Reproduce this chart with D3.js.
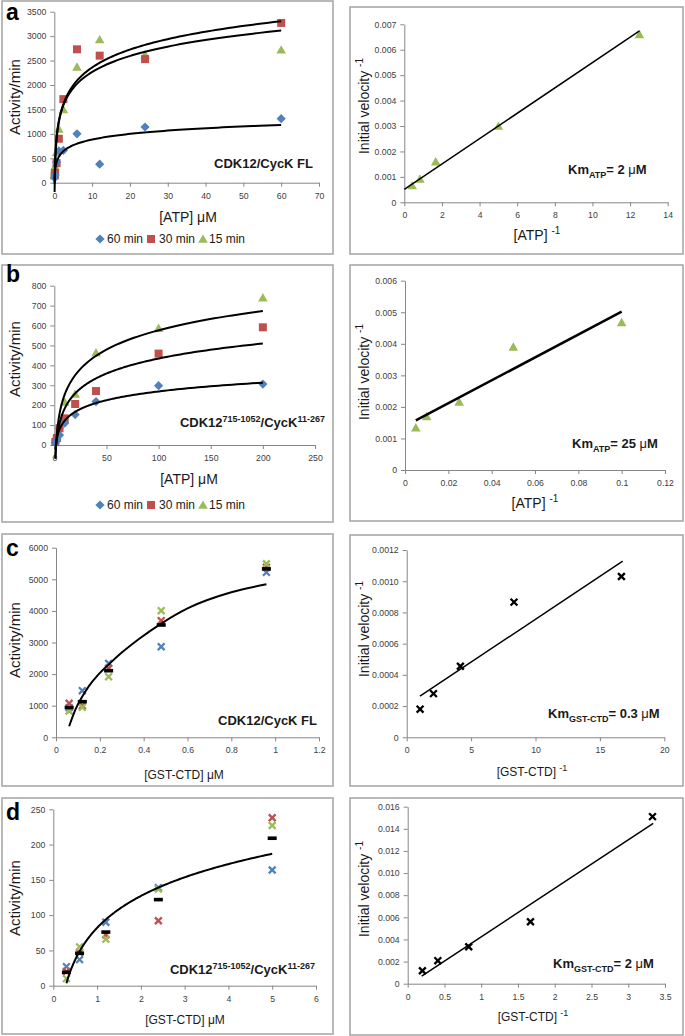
<!DOCTYPE html>
<html><head><meta charset="utf-8">
<script src="https://cdn.jsdelivr.net/npm/d3@7"></script>
<style>body{margin:0;background:#fff}svg{display:block}</style>
</head><body>
<svg id="chart" width="685" height="1036"></svg>
<script>
// ================= DATA =================
const seriesNames = ["60 min", "30 min", "15 min"];

// Panel a (CDK12/CycK FL, ATP titration)
const atpA   = [0.08, 0.2, 0.6, 1.2, 2.4, 6, 12, 24, 60];
const actA60 = [100, 160, 420, 650, 660, 1000, 380, 1140, 1310];
const actA30 = [150, 200, 400, 900, 1710, 2730, 2600, 2530, 3270];
const actA15 = [152, 333, 620, 1100, 1500, 2370, 2930, 2620, 2720];
const invAtpA = [0.42, 0.83, 1.67, 5, 12.5];
const invVelA = [0.00066, 0.00092, 0.0016, 0.0030, 0.0066];
const fitLineAx = [0, 12.5];
const fitLineAy = [0.00051, 0.00674];

// Panel b (CDK12 715-1052 / CycK 11-267, ATP titration)
const atpB   = [1, 2.5, 5, 10, 20, 40, 100, 200];
const actB60 = [10, 25, 50, 110, 153, 218, 298, 306];
const actB30 = [15, 35, 84, 134, 206, 271, 459, 591];
const actB15 = [30, 55, 100, 216, 256, 464, 587, 740];
const invAtpB = [0.005, 0.01, 0.025, 0.05, 0.1];
const invVelB = [0.00134, 0.0017, 0.00216, 0.0039, 0.00468];
const fitLineBx = [0.005, 0.1];
const fitLineBy = [0.00157, 0.00502];

// Panel c (CDK12/CycK FL, GST-CTD titration)
const ctdC      = [0.06, 0.12, 0.24, 0.48, 0.96];
const actC_rep1 = [940, 1475, 2340, 2867, 5220];
const actC_rep2 = [1076, 1000, 2184, 3690, 5380];
const actC_rep3 = [832, 949, 1918, 4006, 5490];
const actC_mean = [940, 1127, 2108, 3554, 5330];
const curveCx = [0.06, 0.09, 0.12, 0.15, 0.19, 0.24, 0.30, 0.38, 0.48, 0.60, 0.80, 0.96];
const curveCy = [350, 900, 1290, 1620, 1960, 2300, 2680, 3120, 3600, 4080, 4590, 4840];
const invCtdC = [1.04, 2.08, 4.17, 8.33, 16.67];
const invVelC = [0.00018, 0.00028, 0.000455, 0.000866, 0.00103];
const fitLineCx = [1.03, 16.77];
const fitLineCy = [0.000264, 0.001128];

// Panel d (CDK12 715-1052 / CycK 11-267, GST-CTD titration)
const ctdD      = [0.3, 0.6, 1.2, 2.4, 5];
const actD_rep1 = [27, 37, 90, 139, 164];
const actD_rep2 = [20, 47, 72, 92, 238];
const actD_rep3 = [10, 55, 66, 137, 227];
const actD_mean = [19, 46, 76, 122, 209];
const invCtdD = [0.2, 0.41, 0.83, 1.67, 3.33];
const invVelD = [0.00117, 0.00208, 0.00334, 0.0056, 0.0151];
const fitLineDx = [0.19, 3.34];
const fitLineDy = [0.00069, 0.01449];

// Tick values and labels
const tickAxL = [0, 10, 20, 30, 40, 50, 60, 70];
const labAxL  = ["0", "10", "20", "30", "40", "50", "60", "70"];
const tickAyL = [0, 500, 1000, 1500, 2000, 2500, 3000, 3500];
const labAyL  = ["0", "500", "1000", "1500", "2000", "2500", "3000", "3500"];
const tickAxR = [0, 2, 4, 6, 8, 10, 12, 14];
const labAxR  = ["0", "2", "4", "6", "8", "10", "12", "14"];
const tickAyR = [0, 0.001, 0.002, 0.003, 0.004, 0.005, 0.006, 0.007];
const labAyR  = ["0", "0.001", "0.002", "0.003", "0.004", "0.005", "0.006", "0.007"];

const tickBxL = [0, 50, 100, 150, 200, 250];
const labBxL  = ["0", "50", "100", "150", "200", "250"];
const tickByL = [0, 100, 200, 300, 400, 500, 600, 700, 800];
const labByL  = ["0", "100", "200", "300", "400", "500", "600", "700", "800"];
const tickBxR = [0, 0.02, 0.04, 0.06, 0.08, 0.1, 0.12];
const labBxR  = ["0", "0.02", "0.04", "0.06", "0.08", "0.1", "0.12"];
const tickByR = [0, 0.001, 0.002, 0.003, 0.004, 0.005, 0.006];
const labByR  = ["0", "0.001", "0.002", "0.003", "0.004", "0.005", "0.006"];

const tickCxL = [0, 0.2, 0.4, 0.6, 0.8, 1, 1.2];
const labCxL  = ["0", "0.2", "0.4", "0.6", "0.8", "1", "1.2"];
const tickCyL = [0, 1000, 2000, 3000, 4000, 5000, 6000];
const labCyL  = ["0", "1000", "2000", "3000", "4000", "5000", "6000"];
const tickCxR = [0, 5, 10, 15, 20];
const labCxR  = ["0", "5", "10", "15", "20"];
const tickCyR = [0, 0.0002, 0.0004, 0.0006, 0.0008, 0.0010, 0.0012];
const labCyR  = ["0", "0.0002", "0.0004", "0.0006", "0.0008", "0.0010", "0.0012"];

const tickDxL = [0, 1, 2, 3, 4, 5, 6];
const labDxL  = ["0", "1", "2", "3", "4", "5", "6"];
const tickDyL = [0, 50, 100, 150, 200, 250];
const labDyL  = ["0", "50", "100", "150", "200", "250"];
const tickDxR = [0, 0.5, 1, 1.5, 2, 2.5, 3, 3.5];
const labDxR  = ["0", "0.5", "1", "1.5", "2", "2.5", "3", "3.5"];
const tickDyR = [0, 0.002, 0.004, 0.006, 0.008, 0.010, 0.012, 0.014, 0.016];
const labDyR  = ["0", "0.002", "0.004", "0.006", "0.008", "0.010", "0.012", "0.014", "0.016"];

// ================= LAYOUT / STYLE =================
const FONT = "Arial, 'Liberation Sans', Helvetica, sans-serif";
const COL = {blue: "#4F81BD", red: "#C0504D", green: "#9BBB59"};
const LAYOUT = {
  aL: {box: [2, 1, 333, 254],    plot: {l: 54.3, r: 319,   t: 11.7,  b: 182.7}},
  aR: {box: [350, 7, 683, 254],  plot: {l: 404.3, r: 667.7, t: 24.3, b: 202.3}},
  bL: {box: [2, 265, 333, 522],  plot: {l: 54.3, r: 315,   t: 285.7, b: 445}},
  bR: {box: [350, 265, 683, 521],plot: {l: 405, r: 665,    t: 280.7, b: 470}},
  cL: {box: [2, 534, 333, 786],  plot: {l: 56, r: 319,     t: 547.7, b: 737.3}},
  cR: {box: [350, 535, 683, 786],plot: {l: 406.7, r: 664.3, t: 550,  b: 737.3}},
  dL: {box: [2, 798, 333, 1034], plot: {l: 53.3, r: 316,   t: 809.3, b: 985.7}},
  dR: {box: [350, 798, 683, 1035],plot:{l: 407.7, r: 665,  t: 806.7, b: 983.7}}
};

const svg = d3.select("#chart");

function frame(key, xTicks, xLabels, yTicks, yLabels) {
  const L = LAYOUT[key];
  const g = svg.append("g");
  g.append("rect").attr("x", L.box[0]).attr("y", L.box[1])
    .attr("width", L.box[2] - L.box[0]).attr("height", L.box[3] - L.box[1])
    .attr("fill", "none").attr("stroke", "#a3a3a3").attr("stroke-width", 1.5);
  const x = d3.scaleLinear().domain([xTicks[0], xTicks[xTicks.length - 1]]).range([L.plot.l, L.plot.r]);
  const y = d3.scaleLinear().domain([yTicks[0], yTicks[yTicks.length - 1]]).range([L.plot.b, L.plot.t]);
  const xa = g.append("g").attr("transform", `translate(0,${L.plot.b})`)
    .call(d3.axisBottom(x).tickValues(xTicks).tickFormat(d => xLabels[xTicks.indexOf(d)])
      .tickSizeInner(4).tickSizeOuter(0).tickPadding(6));
  const ya = g.append("g").attr("transform", `translate(${L.plot.l},0)`)
    .call(d3.axisLeft(y).tickValues(yTicks).tickFormat(d => yLabels[yTicks.indexOf(d)])
      .tickSizeInner(4).tickSizeOuter(0).tickPadding(4));
  [xa, ya].forEach(a => {
    a.select(".domain").attr("stroke", "#868686");
    a.selectAll(".tick line").attr("stroke", "#868686");
    a.selectAll("text").attr("font-size", 8.7).attr("fill", "#404040").attr("font-family", FONT);
  });
  return {g, x, y};
}

function rich(parent, x, y, anchor, parts, rotate) {
  const t = parent.append("text").attr("x", x).attr("y", y).attr("text-anchor", anchor)
    .attr("font-family", FONT).attr("fill", "#1a1a1a");
  if (rotate) t.attr("transform", `rotate(-90 ${x} ${y})`);
  let cur = 0;
  parts.forEach(p => {
    const s = p.shift || 0;
    const ts = t.append("tspan").text(p.t).attr("font-size", p.size)
      .attr("font-weight", p.bold ? "bold" : "normal");
    if (s !== cur) ts.attr("dy", -(s - cur));
    cur = s;
  });
  return t;
}

function marker(g, shape, cx, cy, color) {
  if (shape === "diamond") {
    const r = 4.6;
    g.append("path").attr("d", `M${cx},${cy - r}L${cx + r},${cy}L${cx},${cy + r}L${cx - r},${cy}Z`).attr("fill", color);
  } else if (shape === "square") {
    g.append("rect").attr("x", cx - 4).attr("y", cy - 4).attr("width", 8).attr("height", 8).attr("fill", color);
  } else if (shape === "triangle") {
    g.append("path").attr("d", `M${cx},${cy - 4.6}L${cx + 4.8},${cy + 3.8}L${cx - 4.8},${cy + 3.8}Z`).attr("fill", color);
  } else if (shape === "x") {
    const r = 3.4;
    g.append("path").attr("d", `M${cx - r},${cy - r}L${cx + r},${cy + r}M${cx - r},${cy + r}L${cx + r},${cy - r}`)
      .attr("stroke", color).attr("stroke-width", 2.3).attr("fill", "none");
  } else if (shape === "dash") {
    g.append("rect").attr("x", cx - 4.5).attr("y", cy - 1.8).attr("width", 9).attr("height", 3.6).attr("fill", color);
  }
}

function scatter(p, xs, ys, shape, color) {
  xs.forEach((v, i) => marker(p.g, shape, p.x(v), p.y(ys[i]), color));
}

// least-squares logarithmic trendline (y = a ln x + b), as the spreadsheet does
function logTrend(p, xs, ys, width) {
  const lx = xs.map(Math.log);
  const mx = d3.mean(lx), my = d3.mean(ys);
  const a = d3.sum(lx, (v, i) => (v - mx) * (ys[i] - my)) / d3.sum(lx, v => (v - mx) * (v - mx));
  const b = my - a * mx;
  const lo = d3.min(xs), hi = d3.max(xs);
  const pts = d3.range(0, 201).map(k => {
    const xv = lo * Math.pow(hi / lo, k / 200);
    return [xv, a * Math.log(xv) + b];
  });
  p.g.append("path").attr("d", d3.line().x(d => p.x(d[0])).y(d => p.y(d[1]))(pts))
    .attr("fill", "none").attr("stroke", "#000").attr("stroke-width", width);
}

function straight(p, xs, ys, width) {
  p.g.append("path").attr("d", d3.line().x((d, i) => p.x(xs[i])).y((d, i) => p.y(ys[i]))(xs))
    .attr("fill", "none").attr("stroke", "#000").attr("stroke-width", width);
}

function letter(ch, x, y) {
  svg.append("text").attr("x", x).attr("y", y).attr("font-family", FONT).attr("font-weight", "bold")
    .attr("font-size", 23).attr("fill", "#000").text(ch);
}

function yTitleAct(cy) {
  rich(svg, 20, cy, "middle", [{t: "Activity/min", size: 15}], true);
}
function yTitleInv(cy) {
  rich(svg, 369, cy, "middle", [{t: "Initial velocity\u00A0", size: 14}, {t: "-1", size: 10, shift: 6}], true);
}

function legend(cy) {
  const g = svg.append("g");
  const shapes = ["diamond", "square", "triangle"];
  const cols = [COL.blue, COL.red, COL.green];
  const mx = [100, 151, 203], tx = [107, 159, 209];
  seriesNames.forEach((n, i) => {
    marker(g, shapes[i], mx[i], cy, cols[i]);
    g.append("text").attr("x", tx[i]).attr("y", cy + 4.3).attr("font-family", FONT).attr("font-size", 12)
      .attr("fill", "#1a1a1a").text(n);
  });
}

function kmLabel(x, y, sub, val) {
  rich(svg, x, y, "start", [
    {t: "Km", size: 13, bold: true},
    {t: sub, size: 9, bold: true, shift: -4},
    {t: "= " + val + "\u00A0", size: 13, bold: true, shift: 0},
    {t: "\u03BC", size: 13},
    {t: "M", size: 13, bold: true}
  ]);
}

function truncLabel(x, y) {
  rich(svg, x, y, "end", [
    {t: "CDK12", size: 13, bold: true},
    {t: "715-1052", size: 9, bold: true, shift: 5},
    {t: "/CycK", size: 13, bold: true, shift: 0},
    {t: "11-267", size: 9, bold: true, shift: 5}
  ]);
}

// ================= PANEL a =================
{
  const p = frame("aL", tickAxL, labAxL, tickAyL, labAyL);
  scatter(p, atpA, actA15, "triangle", COL.green);
  scatter(p, atpA, actA30, "square", COL.red);
  scatter(p, atpA, actA60, "diamond", COL.blue);
  logTrend(p, atpA, actA60, 2);
  logTrend(p, atpA, actA30, 2);
  logTrend(p, atpA, actA15, 2);
  rich(svg, 313, 168, "end", [{t: "CDK12/CycK FL", size: 13, bold: true}]);
  rich(svg, 188, 222, "middle", [{t: "[ATP]\u00A0", size: 14}, {t: "\u03BCM", size: 14}]);
  yTitleAct(97);
  legend(239);
  letter("a", 6, 20);

  const q = frame("aR", tickAxR, labAxR, tickAyR, labAyR);
  scatter(q, invAtpA, invVelA, "triangle", COL.green);
  straight(q, fitLineAx, fitLineAy, 1.5);
  kmLabel(568, 174, "ATP", "2");
  rich(svg, 537, 240, "middle", [{t: "[ATP]\u00A0", size: 14}, {t: "-1", size: 10, shift: 6}]);
  yTitleInv(106);
}

// ================= PANEL b =================
{
  const p = frame("bL", tickBxL, labBxL, tickByL, labByL);
  scatter(p, atpB, actB15, "triangle", COL.green);
  scatter(p, atpB, actB30, "square", COL.red);
  scatter(p, atpB, actB60, "diamond", COL.blue);
  logTrend(p, atpB, actB60, 2);
  logTrend(p, atpB, actB30, 2);
  logTrend(p, atpB, actB15, 2);
  truncLabel(325, 427);
  rich(svg, 189, 484, "middle", [{t: "[ATP]\u00A0", size: 14}, {t: "\u03BCM", size: 14}]);
  yTitleAct(359);
  legend(505);
  letter("b", 6, 282);

  const q = frame("bR", tickBxR, labBxR, tickByR, labByR);
  scatter(q, invAtpB, invVelB, "triangle", COL.green);
  straight(q, fitLineBx, fitLineBy, 2.5);
  kmLabel(572, 448, "ATP", "25");
  rich(svg, 535, 508, "middle", [{t: "[ATP]\u00A0", size: 14}, {t: "-1", size: 10, shift: 6}]);
  yTitleInv(372);
}

// ================= PANEL c =================
{
  const p = frame("cL", tickCxL, labCxL, tickCyL, labCyL);
  scatter(p, ctdC, actC_rep1, "x", COL.blue);
  scatter(p, ctdC, actC_rep2, "x", COL.red);
  scatter(p, ctdC, actC_rep3, "x", COL.green);
  scatter(p, ctdC, actC_mean, "dash", "#000");
  p.g.append("path").attr("d", d3.line().curve(d3.curveMonotoneX)
      .x((d, i) => p.x(curveCx[i])).y((d, i) => p.y(curveCy[i]))(curveCx))
    .attr("fill", "none").attr("stroke", "#000").attr("stroke-width", 2);
  rich(svg, 317, 725, "end", [{t: "CDK12/CycK FL", size: 13, bold: true}]);
  rich(svg, 184, 779, "middle", [{t: "[GST-CTD]\u00A0", size: 12}, {t: "\u03BCM", size: 12}]);
  yTitleAct(640);
  letter("c", 6, 556);

  const q = frame("cR", tickCxR, labCxR, tickCyR, labCyR);
  scatter(q, invCtdC, invVelC, "x", "#000");
  straight(q, fitLineCx, fitLineCy, 1.5);
  kmLabel(548, 718, "GST-CTD", "0.3");
  rich(svg, 532, 776, "middle", [{t: "[GST-CTD]\u00A0", size: 12}, {t: "-1", size: 9, shift: 5}]);
  yTitleInv(629);
}

// ================= PANEL d =================
{
  const p = frame("dL", tickDxL, labDxL, tickDyL, labDyL);
  scatter(p, ctdD, actD_rep1, "x", COL.blue);
  scatter(p, ctdD, actD_rep2, "x", COL.red);
  scatter(p, ctdD, actD_rep3, "x", COL.green);
  scatter(p, ctdD, actD_mean, "dash", "#000");
  logTrend(p, ctdD, actD_mean, 2);
  truncLabel(315, 974);
  rich(svg, 185, 1024, "middle", [{t: "[GST-CTD]\u00A0", size: 12}, {t: "\u03BCM", size: 12}]);
  yTitleAct(898);
  letter("d", 6, 820);

  const q = frame("dR", tickDxR, labDxR, tickDyR, labDyR);
  scatter(q, invCtdD, invVelD, "x", "#000");
  straight(q, fitLineDx, fitLineDy, 1.5);
  kmLabel(553, 968, "GST-CTD", "2");
  rich(svg, 533, 1021, "middle", [{t: "[GST-CTD]\u00A0", size: 12}, {t: "-1", size: 9, shift: 5}]);
  yTitleInv(889);
}
</script>
</body></html>
